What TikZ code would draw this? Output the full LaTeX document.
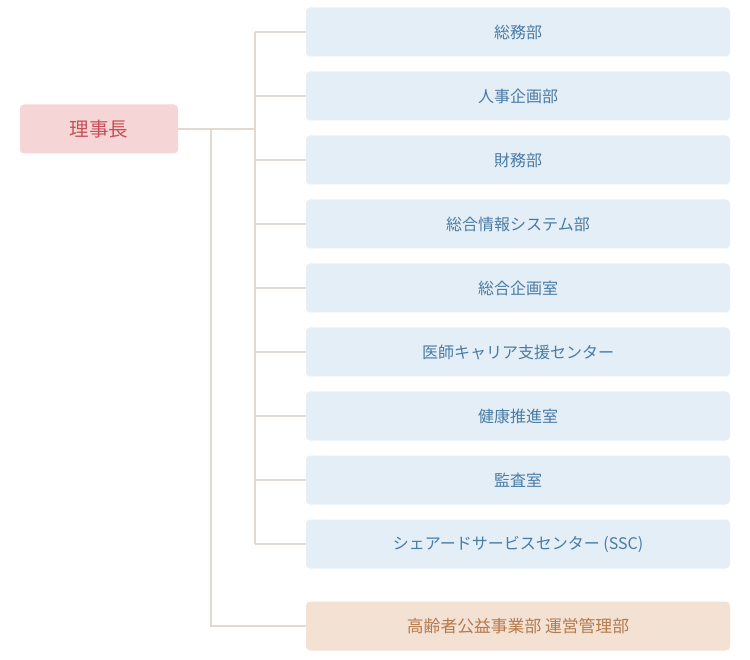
\documentclass[tikz,border=0pt]{standalone}
\usepackage{fontspec}
\setmainfont{Noto Sans CJK JP}
\usepackage{tikz}
\usepackage{xcolor}
\usetikzlibrary{positioning}

\definecolor{rootfill}{HTML}{F5D5D5}
\definecolor{roottext}{HTML}{C65058}
\definecolor{deptfill}{HTML}{E3EEF7}
\definecolor{depttext}{HTML}{4A7BA3}
\definecolor{opfill}{HTML}{F3E1D4}
\definecolor{optext}{HTML}{B57A4C}
\definecolor{linecol}{HTML}{E0DAD0}

\begin{document}
\begin{tikzpicture}[x=1pt, y=-1pt,
        chief/.style={rectangle, rounded corners=4pt, fill=rootfill, text=roottext,
                      minimum width=158pt, minimum height=49pt, inner sep=0pt,
                      font=\fontsize{19.5}{23}\selectfont},
        dept/.style={rectangle, rounded corners=4pt, fill=deptfill, text=depttext,
                     minimum width=424pt, minimum height=49pt, inner sep=0pt,
                     font=\fontsize{16}{19}\selectfont},
        opdept/.style={dept, fill=opfill, text=optext, font=\fontsize{16.8}{20}\selectfont},
        conn/.style={draw=linecol, line width=2pt}
    ]
    \useasboundingbox (0,0) rectangle (750,660);
    % 理事長
    \node[chief] (chief) at (99,129) {理事長};
    % 本部の部署
    \node[dept] (d1) at (518,32) {総務部};
    \node[dept] (d2) at (518,96) {人事企画部};
    \node[dept] (d3) at (518,160) {財務部};
    \node[dept] (d4) at (518,224) {総合情報システム部};
    \node[dept] (d5) at (518,288) {総合企画室};
    \node[dept] (d6) at (518,352) {医師キャリア支援センター};
    \node[dept] (d7) at (518,416) {健康推進室};
    \node[dept] (d8) at (518,480) {監査室};
    \node[dept] (d9) at (518,544) {シェアードサービスセンター (SSC)};
    % 高齢者公益事業部
    \node[opdept] (op) at (518,626) {高齢者公益事業部 運営管理部};

    \coordinate (bus) at (255,0);
    \coordinate (lower) at (211,0);

    \draw[conn] (chief.east) -- (chief.east -| bus);
    \draw[conn] (d1.west -| bus) -- (d9.west -| bus);
    \foreach \d in {d1,d2,d3,d4,d5,d6,d7,d8,d9}
        \draw[conn] (\d.west) -- (\d.west -| bus);
    \draw[conn] (chief.east -| lower) |- (op.west);
\end{tikzpicture}
\end{document}
